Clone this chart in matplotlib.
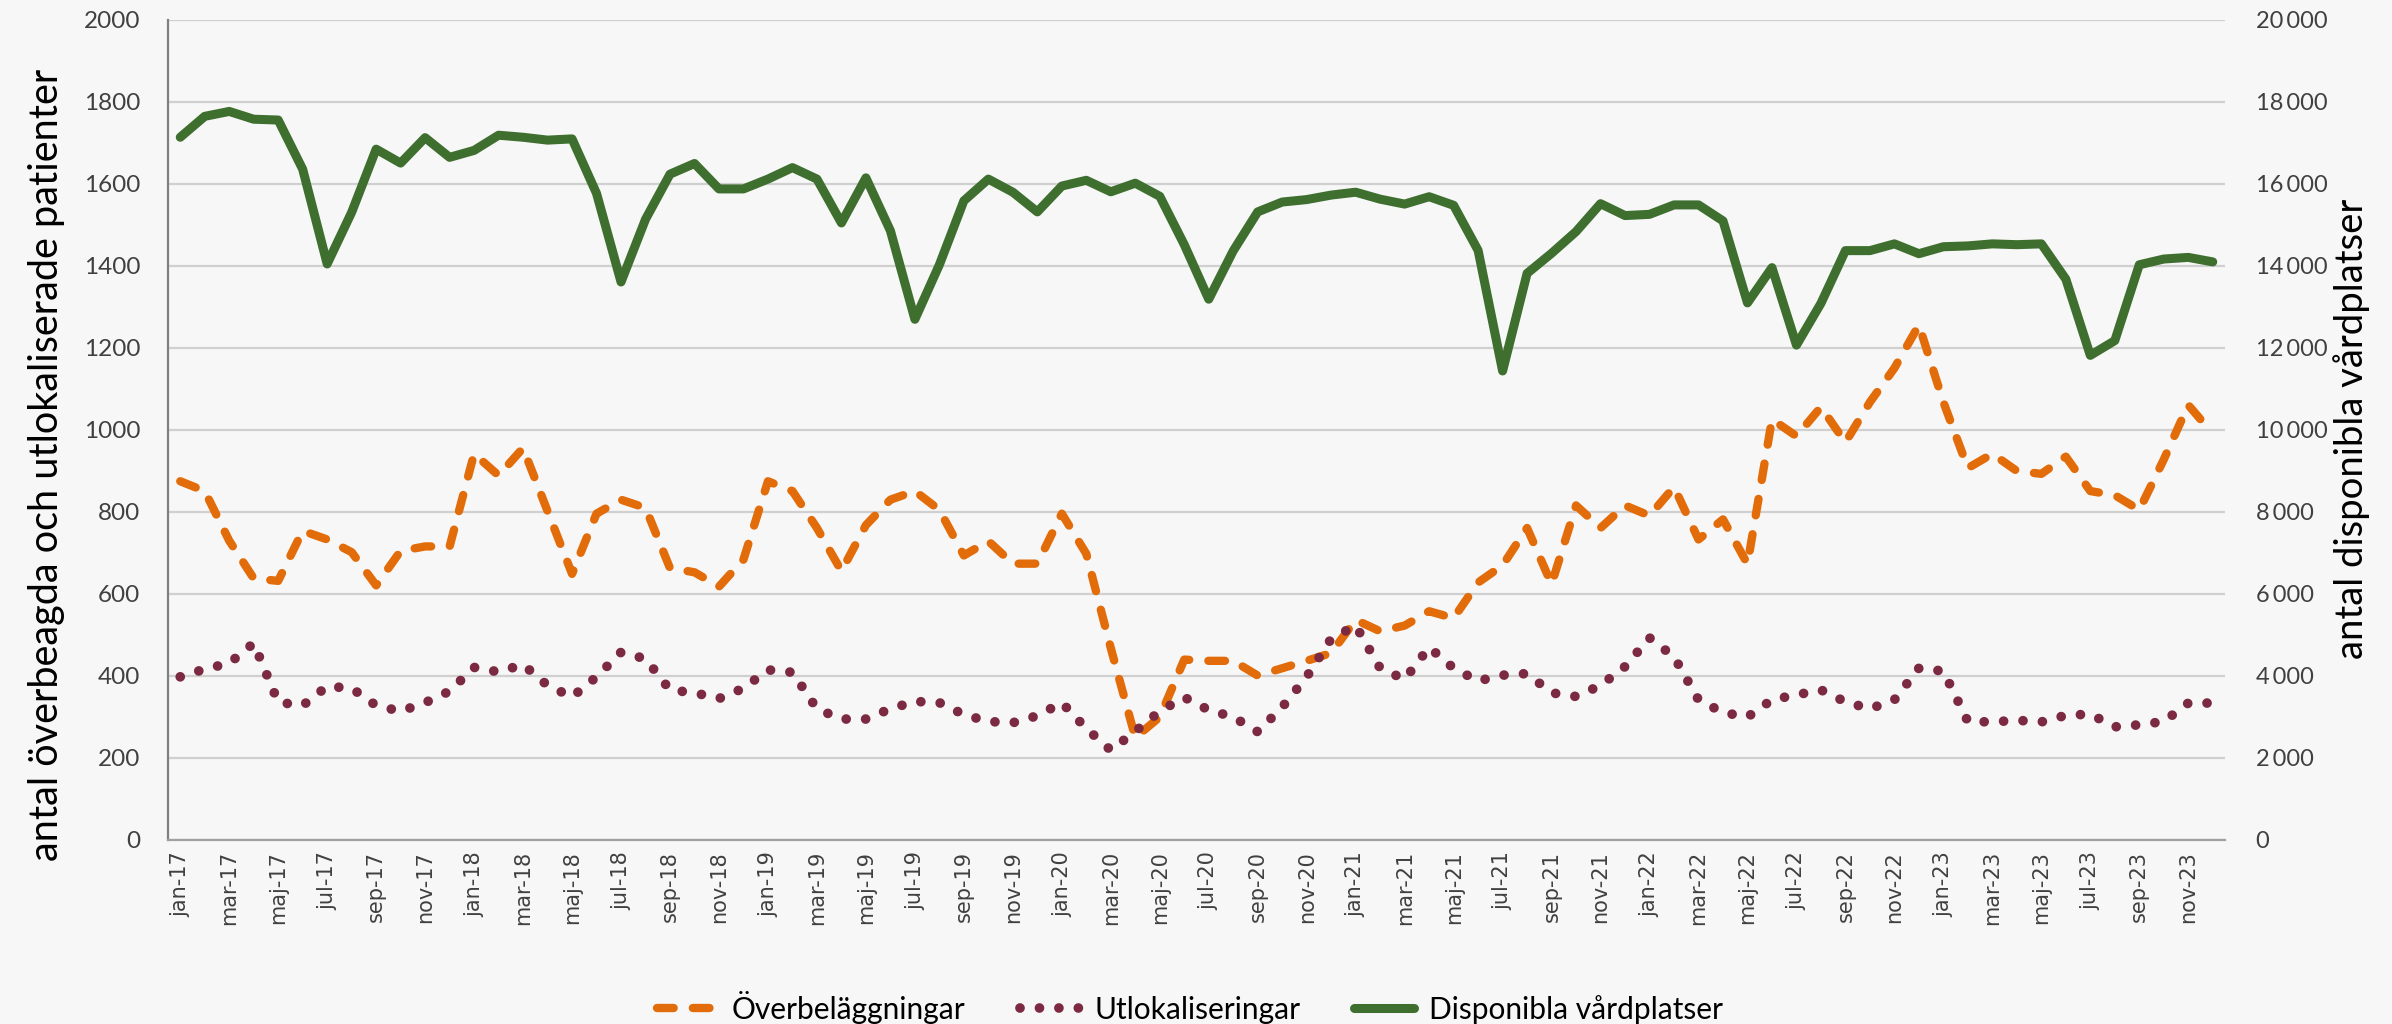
import matplotlib
matplotlib.use("Agg")
import matplotlib.pyplot as plt
import numpy as np

plt.rcParams['font.family'] = ['Lato', 'DejaVu Sans']

mon = ["jan", "feb", "mar", "apr", "maj", "jun", "jul", "aug", "sep", "okt", "nov", "dec"]
years = ["17", "18", "19", "20", "21", "22", "23"]
months = [f"{m}-{y}" for y in years for m in mon]

overbelaggningar = [
    875, 851, 730, 638, 632, 754, 733, 702, 621, 705, 716, 716,
    942, 889, 956, 802, 649, 796, 830, 810, 663, 653, 618, 684,
    875, 851, 761, 656, 768, 830, 851, 805, 694, 729, 674, 674,
    796, 698, 468, 250, 300, 440, 437, 437, 401, 419, 437, 456,
    537, 509, 523, 558, 541, 628, 670, 761, 624, 816, 761, 816,
    791, 861, 733, 782, 673, 1026, 985, 1056, 970, 1068, 1151, 1256,
    1068, 907, 942, 900, 893, 935, 851, 841, 805, 928, 1061, 991,
]
utlokaliseringar = [
    398, 417, 431, 480, 336, 328, 375, 370, 328, 314, 335, 363,
    421, 410, 428, 377, 349, 398, 458, 442, 366, 359, 345, 370,
    415, 409, 320, 295, 295, 320, 338, 335, 306, 289, 286, 303,
    335, 272, 219, 265, 314, 348, 317, 300, 264, 324, 398, 491,
    523, 419, 392, 470, 419, 388, 402, 406, 359, 350, 377, 423,
    493, 447, 342, 311, 300, 342, 354, 366, 337, 320, 342, 419,
    412, 289, 288, 292, 288, 304, 307, 276, 281, 289, 334, 334,
]
vardplatser = [
    17140, 17650, 17770, 17580, 17560, 16360, 14050, 15310, 16850, 16510, 17130, 16650,
    16820, 17190, 17140, 17070, 17100, 15770, 13610, 15140, 16240, 16500, 15880, 15880,
    16120, 16400, 16120, 15050, 16150, 14860, 12700, 14030, 15590, 16120, 15800, 15320,
    15950, 16090, 15810, 16020, 15700, 14520, 13190, 14370, 15320, 15560, 15620, 15730,
    15800, 15630, 15510, 15690, 15480, 14380, 11440, 13820, 14310, 14840, 15520, 15230,
    15260, 15490, 15490, 15100, 13100, 13960, 12070, 13090, 14375, 14375, 14540, 14300,
    14470, 14490, 14540, 14520, 14540, 13680, 11820, 12180, 14030, 14170, 14210, 14100,
]

left_ticks = list(range(0, 2001, 200))
right_ticks = list(range(0, 20001, 2000))

ORANGE = "#e36c0a"
PURPLE = "#7b2a42"
GREEN = "#3e6f2f"
BG = "#f7f7f7"
GRID = "#d0d0d0"
TXT = "#404040"

fig = plt.figure(figsize=(23.92, 10.24), dpi=100, facecolor=BG)
ax = fig.add_axes([168/2392, 1-840/1024, (2225-168)/2392, (840-20)/1024])
ax.set_facecolor(BG)
ax2 = ax.twinx()

x = np.arange(len(months))
l1, = ax.plot(x, overbelaggningar, color=ORANGE, lw=6.0, linestyle=(0, (2.0, 2.3)),
              dash_capstyle='round', solid_joinstyle='round', label="Överbeläggningar", zorder=3)
l2, = ax.plot(x, utlokaliseringar, color=PURPLE, lw=7.0, linestyle=(0, (0.001, 2.0)),
              dash_capstyle='round', label="Utlokaliseringar", zorder=4)
l3, = ax2.plot(x, vardplatser, color=GREEN, lw=6.5, solid_joinstyle='round',
               solid_capstyle='round', label="Disponibla vårdplatser", zorder=5)

ax.set_xlim(-0.5, len(months) - 0.5)
ax.set_ylim(0, 2000)
ax2.set_ylim(0, 20000)
ax.set_yticks(left_ticks)
ax.set_yticklabels([str(v) for v in left_ticks], fontsize=17.5, color=TXT)
ax2.set_yticks(right_ticks)
ax2.set_yticklabels([f"{v:,}".replace(",", "\u2009") for v in right_ticks], fontsize=17, color=TXT)
ax.set_xticks(x[::2])
ax.set_xticklabels(months[::2], rotation=90, color=TXT)
for lab in ax.get_xticklabels():
    lab.set_fontfamily(['DejaVu Sans'])
    lab.set_fontsize(15)

ax.grid(axis='y', color=GRID, lw=1.6, zorder=0)
ax.set_axisbelow(True)
for a in (ax, ax2):
    a.spines['top'].set_visible(False)
    a.spines['right'].set_visible(False)
    a.tick_params(length=0)
ax2.spines['left'].set_visible(False)
ax2.spines['bottom'].set_visible(False)
ax.spines['left'].set_color("#808080")
ax.spines['bottom'].set_color("#a0a0a0")
ax.spines['left'].set_linewidth(1.6)
ax.spines['bottom'].set_linewidth(1.6)
ax.tick_params(axis='y', pad=20)
ax2.tick_params(axis='y', pad=22)
ax.tick_params(axis='x', pad=8)

fig.text(47/2392, 1-465/1024, "antal överbeagda och utlokaliserade patienter",
         rotation=90, ha='center', va='center', fontsize=28.5, color='black')
fig.text(2352/2392, 1-429/1024, "antal disponibla vårdplatser",
         rotation=90, ha='center', va='center', fontsize=27.5, color='black')

leg = fig.legend(handles=[l1, l2, l3], loc='center', bbox_to_anchor=(0.4975, 1-1007/1024),
                 ncol=3, frameon=False, fontsize=21.5, handlelength=2.0, handletextpad=0.5,
                 columnspacing=1.8)
for t in leg.get_texts():
    t.set_color('black')

fig.savefig("out.png", dpi=100, facecolor=BG)
